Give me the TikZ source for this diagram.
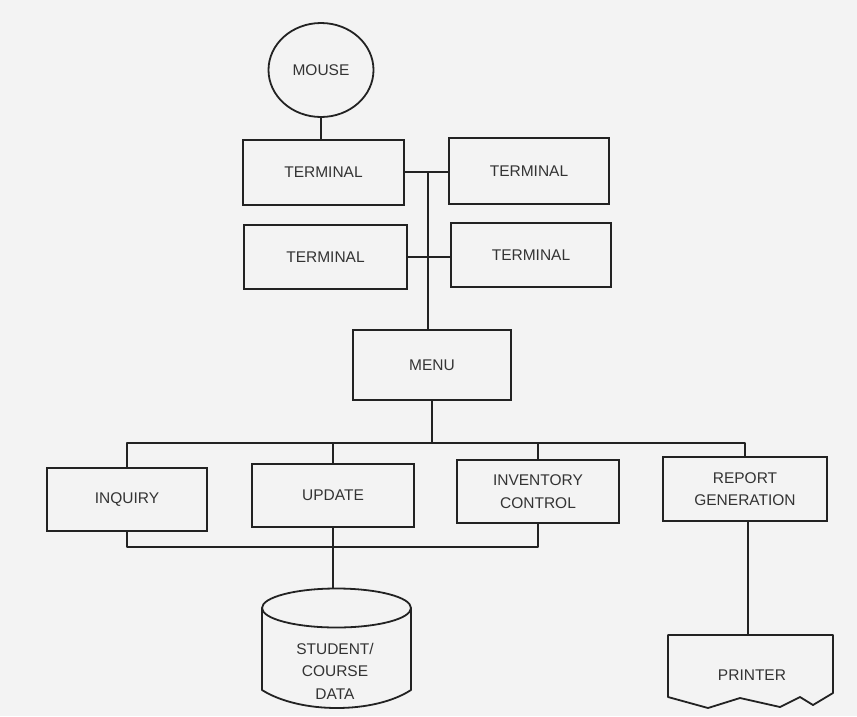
\documentclass[tikz,border=0pt]{standalone}
\usepackage{fontspec}
\setmainfont{Liberation Sans}
\usetikzlibrary{shapes.geometric}
\definecolor{bg}{HTML}{F3F3F3}
\definecolor{ink}{HTML}{222222}
\definecolor{txt}{HTML}{333333}
\tikzset{
  lbl/.style={text=txt, font=\fontsize{15.5}{22.5}\selectfont, align=center},
  box/.style={draw=ink, line width=1.8pt, lbl, inner sep=0pt},
  wire/.style={draw=ink, line width=1.8pt, line join=round},
}
\begin{document}
\begin{tikzpicture}[x=1pt, y=-1pt]
\fill[bg] (0,0) rectangle (857,716);
\useasboundingbox (0,0) rectangle (857,716);

% mouse
\node[box, ellipse, minimum width=105pt, minimum height=94pt] (mouse) at (321,70) {MOUSE};

% terminals
\node[box, minimum width=161pt, minimum height=65pt] (t1) at (323.5,172.5) {TERMINAL};
\node[box, minimum width=160pt, minimum height=66pt] (t2) at (529,171) {TERMINAL};
\node[box, minimum width=163pt, minimum height=64pt] (t3) at (325.5,257) {TERMINAL};
\node[box, minimum width=160pt, minimum height=64pt] (t4) at (531,255) {TERMINAL};

% menu
\node[box, minimum width=158pt, minimum height=70pt] (menu) at (432,365) {MENU};

% functions
\node[box, minimum width=160pt, minimum height=63pt] (inq) at (127,499.5) {INQUIRY};
\node[box, minimum width=162pt, minimum height=63pt] (upd) at (333,495.5) {UPDATE};
\node[box, minimum width=162pt, minimum height=63pt] (inv) at (538,491.5) {INVENTORY\\CONTROL};
\node[box, minimum width=164pt, minimum height=64pt] (rep) at (745,489) {REPORT\\GENERATION};

% database cylinder
\draw[wire] (336.5,608) ellipse [x radius=74.5pt, y radius=19.5pt];
\draw[wire] (262,608) -- (262,690) .. controls (300,714) and (374,714) .. (411,690) -- (411,608);
\coordinate (dbtop) at (333,588.5);
\node[lbl] (db) at (335,671) {STUDENT/\\COURSE\\DATA};

% printer
\draw[wire] (668,635) -- (833,635) -- (833,693) -- (813,705) -- (800,697) -- (780,707)
  -- (740,698) -- (708,708) -- (668,697) -- cycle;
\coordinate (prntop) at (748,635);
\node[lbl] (prn) at (752,675) {PRINTER};

% bus coordinates
\coordinate (bus) at (0,443);
\coordinate (bus2) at (0,547);
\coordinate (trunk) at (428,172);

% connectors
\draw[wire] (mouse.south) -- (mouse.south |- t1.north);
\draw[wire] (t1.east |- trunk) -- (t2.west |- trunk);
\draw[wire] (t3.east) -- (t3.east -| t4.west);
\draw[wire] (trunk) -- (trunk |- menu.north);
\draw[wire] (menu.south) -- (menu.south |- bus);
\draw[wire] (inq.north) -- (inq.north |- bus) -- (rep.north |- bus) -- (rep.north);
\draw[wire] (upd.north) -- (upd.north |- bus);
\draw[wire] (inv.north) -- (inv.north |- bus);
\draw[wire] (inq.south) -- (inq.south |- bus2) -- (inv.south |- bus2) -- (inv.south);
\draw[wire] (upd.south -| dbtop) -- (dbtop);
\draw[wire] (rep.south -| prntop) -- (prntop);
\end{tikzpicture}
\end{document}
